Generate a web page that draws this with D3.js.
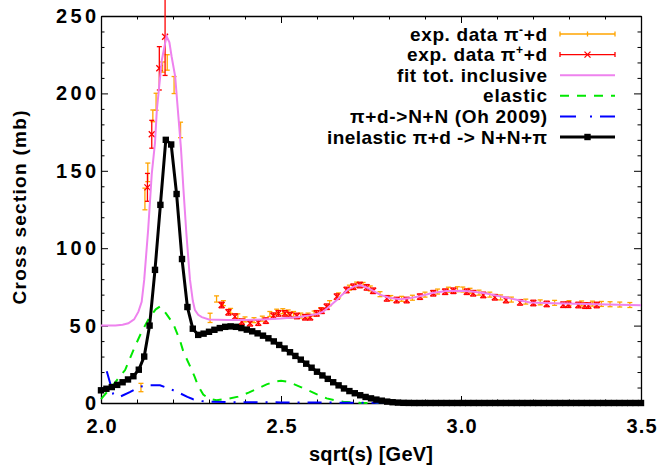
<!DOCTYPE html>
<html><head><meta charset="utf-8">
<script src="https://cdn.jsdelivr.net/npm/d3@7"></script>
<style>body{margin:0;background:#fff} text{font-family:"Liberation Sans",Arial,sans-serif;font-weight:bold;fill:#000}</style>
</head><body><svg id="c" width="670" height="466"></svg>
<script>
// ---------- data ----------
const xTicks = [2.0, 2.5, 3.0, 3.5];
const yTicks = [0, 50, 100, 150, 200, 250];

// exp. data pi- + d  (orange)
const piMinusS   = [2.111, 2.122, 2.130, 2.144, 2.153, 2.171, 2.184, 2.203, 2.221, 2.303, 2.321, 2.34, 2.36, 2.38, 2.40, 2.425, 2.448, 2.469, 2.488, 2.505, 2.52, 2.535, 2.555, 2.575, 2.592, 2.61, 2.635, 2.66, 2.69, 2.71, 2.728, 2.748, 2.775, 2.805, 2.835, 2.865, 2.9, 2.935, 2.965, 2.99, 3.005, 3.025, 3.05, 3.08, 3.11, 3.14, 3.18, 3.22, 3.26, 3.3, 3.335, 3.365, 3.39, 3.414, 3.441, 3.469];
const piMinusVal = [10, 131.8, 149, 185.5, 194.6, 217, 220, 205.4, 176.4, 55, 67.2, 64.5, 59.5, 56, 54, 53.5, 54.5, 57.5, 59, 59.3, 58.5, 57.5, 56.5, 56.5, 57.8, 60, 64.5, 69.5, 74.5, 76.5, 76.3, 74, 70.3, 67.8, 67.3, 68, 70, 72, 73.2, 73.5, 73.3, 72.5, 71.3, 70, 68.2, 66.8, 65.5, 65, 64.7, 64.5, 64.3, 64.2, 64, 63.8, 63.6, 63.3];
const piMinusErr = [2.7, 7, 6, 3.8, 5.5, 3.3, 5, 5.5, 5, 3, 2, 1.6, 1.6, 1.6, 1.6, 1.6, 1.6, 1.6, 1.6, 1.6, 1.6, 1.6, 1.6, 1.6, 1.6, 1.6, 1.6, 1.6, 1.6, 1.6, 1.6, 1.6, 1.6, 1.6, 1.6, 1.6, 1.6, 1.6, 1.6, 1.6, 1.6, 1.6, 1.6, 1.6, 1.6, 1.6, 1.6, 1.6, 1.6, 1.6, 1.6, 1.6, 1.6, 1.6, 1.6, 1.6];

// exp. data pi+ + d  (red)
const piPlusS   = [2.129, 2.141, 2.162, 2.178, 2.335, 2.354, 2.372, 2.391, 2.414, 2.437, 2.458, 2.479, 2.493, 2.511, 2.525, 2.544, 2.567, 2.581, 2.599, 2.613, 2.627, 2.655, 2.682, 2.701, 2.719, 2.738, 2.756, 2.794, 2.821, 2.849, 2.886, 2.923, 2.956, 2.979, 3.016, 3.034, 3.062, 3.094, 3.125, 3.164, 3.201, 3.238, 3.284, 3.298, 3.326, 3.344, 3.354, 3.377];
const piPlusVal = [139.3, 173.6, 216.2, 236.6, 63.3, 58.6, 55.8, 52.5, 51.5, 51.9, 53.2, 56.4, 57.9, 57.9, 56.8, 56.2, 55.4, 55.4, 57.9, 59.6, 62.2, 68.7, 73, 75.1, 76.2, 74.7, 72.5, 67.6, 66.5, 66.5, 68.7, 70.9, 71.9, 72.5, 71.9, 70.9, 69.8, 68.3, 66.5, 65, 64.6, 64, 63.5, 63.5, 63.3, 62.9, 62.9, 63.3];
const piPlusErr = [9, 9, 14, 25, 1.8, 1.8, 1.8, 1.8, 1.8, 1.8, 1.8, 1.8, 1.8, 1.8, 1.8, 1.8, 1.8, 1.8, 1.8, 1.8, 1.8, 1.8, 1.8, 1.8, 1.8, 1.8, 1.8, 1.8, 1.8, 1.8, 1.8, 1.8, 1.8, 1.8, 1.8, 1.8, 1.8, 1.8, 1.8, 1.8, 1.8, 1.8, 1.8, 1.8, 1.8, 1.8, 1.8, 1.8];

// fit tot. inclusive (violet)
const fitS   = [2.0, 2.04, 2.06, 2.076, 2.092, 2.104, 2.113, 2.12, 2.131, 2.141, 2.15, 2.155, 2.169, 2.182, 2.19, 2.196, 2.206, 2.215, 2.222, 2.229, 2.237, 2.247, 2.255, 2.261, 2.27, 2.28, 2.30, 2.35, 2.40, 2.45, 2.50, 2.55, 2.58, 2.60, 2.617, 2.635, 2.655, 2.67, 2.687, 2.705, 2.72, 2.74, 2.775, 2.80, 2.831, 2.86, 2.886, 2.92, 2.96, 2.997, 3.03, 3.071, 3.10, 3.136, 3.165, 3.192, 3.256, 3.349, 3.469, 3.5];
const fitVal = [50, 50, 50.5, 51.5, 54, 59, 65.4, 79.5, 112, 148, 168, 189, 221.6, 237, 233, 224, 211, 185, 165, 138, 110, 80, 66, 60, 57, 55.5, 54, 53.6, 53.6, 54, 54.6, 55.6, 56.6, 57.5, 59, 62.5, 66.5, 70, 73.5, 75.5, 76, 74.5, 70, 68, 67, 67.8, 69, 71, 72.3, 72.5, 72, 70.8, 69.3, 67.6, 66.2, 65, 64.4, 64, 63.3, 63.2];

// elastic (green)
const elS   = [2.0, 2.02, 2.04, 2.067, 2.094, 2.115, 2.136, 2.152, 2.164, 2.18, 2.2, 2.219, 2.229, 2.245, 2.26, 2.27, 2.284, 2.3, 2.321, 2.35, 2.381, 2.41, 2.437, 2.46, 2.483, 2.5, 2.515, 2.53, 2.555, 2.576, 2.6, 2.627, 2.65, 2.673, 2.72, 2.8];
const elVal = [2.5, 8, 13.5, 21.3, 36.4, 47, 55.7, 60.5, 62.4, 58, 51.5, 40.7, 33, 25, 17, 11, 5.5, 2.8, 1.8, 2.6, 4.1, 6.7, 9.5, 12, 13.8, 14.3, 13.8, 12.7, 10.3, 8.2, 5.6, 3, 1.7, 0.8, 0.1, 0];

// pi+d -> N+N (Oh 2009) (blue)
const ohS   = [2.016, 2.034, 2.053, 2.08, 2.108, 2.135, 2.164, 2.19, 2.219, 2.24, 2.256, 2.28, 2.303, 2.35, 2.4, 2.5, 2.6, 2.7, 2.8];
const ohVal = [20.5, 5.8, 4.1, 7, 10.5, 11.5, 11.4, 9.3, 6.3, 4, 2.4, 1.3, 0.8, 0.6, 0.5, 0.4, 0.3, 0.2, 0.1];

// inelastic pi+d -> N+N+pi (black)
const inelS = [2.000,2.015,2.030,2.045,2.060,2.075,2.090,2.105,2.120,2.135,
  2.150,2.165,2.180,2.195,2.210,2.225,2.240,2.255,2.270,2.285,
  2.300,2.315,2.330,2.345,2.360,2.375,2.390,2.405,2.420,2.435,
  2.450,2.465,2.480,2.495,2.510,2.525,2.540,2.555,2.570,2.585,
  2.600,2.615,2.630,2.645,2.660,2.675,2.690,2.705,2.720,2.735,
  2.750,2.765,2.780,2.795,2.810,2.825,2.840,2.855,2.870,2.885,
  2.900,2.915,2.930,2.945,2.960,2.975,2.990,3.005,3.020,3.035,
  3.050,3.065,3.080,3.095,3.110,3.125,3.140,3.155,3.170,3.185,
  3.200,3.215,3.230,3.245,3.260,3.275,3.290,3.305,3.320,3.335,
  3.350,3.365,3.380,3.395,3.410,3.425,3.440,3.455,3.470,3.485,3.500];
const inelVal = [8.2,9.2,10.3,11.7,13.4,15.2,17.3,21.5,30,50,
  86,128,170,167,135,93,62,48,44,44.8,
  46,47.3,48.4,49.2,49.5,49.2,48.4,47.4,46.3,45,
  43.5,41.8,39.8,37.5,35.2,32.8,30.4,28,25.4,22.8,
  20.2,17.8,15.6,13.4,11.4,9.4,7.7,6.3,5,3.9,
  3,2.2,1.5,0.9,0.5,0.25,0.1,0.05,0,0,
  0,0,0,0,0,0,0,0,0,0,
  0,0,0,0,0,0,0,0,0,0,
  0,0,0,0,0,0,0,0,0,0,
  0,0,0,0,0,0,0,0,0,0,0];

// ---------- chart ----------
const L = 101, R = 641, T = 16, B = 403;
const x = d3.scaleLinear().domain([2, 3.5]).range([L, R]);
const y = d3.scaleLinear().domain([0, 250]).range([B, T]);
const svg = d3.select("#c");
const FS = 19;

const zip = (a, b) => a.map((s, i) => [s, b[i]]);
const line = d3.line().x(d => x(d[0])).y(d => y(d[1]));

// stretch a text to a target width (reference font renders wider)
function fit(sel, w) { sel.attr("textLength", w).attr("lengthAdjust", "spacing"); }

// minor ticks
const xMinor = d3.range(20, 36).map(v => v / 10).filter(v => !xTicks.some(t => Math.abs(t - v) < 1e-6));
const yMinor = d3.range(0, 251, 10).filter(v => v % 50 !== 0);

function drawAxis(gen, tr) {
  const g = svg.append("g").attr("transform", tr).call(gen);
  g.selectAll("path.domain").attr("stroke", "#000").attr("stroke-width", 1.3);
  g.selectAll(".tick line").attr("stroke", "#000").attr("stroke-width", 1);
  return g;
}
const gx = drawAxis(d3.axisBottom(x).tickValues(xTicks).tickFormat(d3.format(".1f")).tickSizeInner(-7).tickSizeOuter(0).tickPadding(16), `translate(0,${B})`);
const gy = drawAxis(d3.axisLeft(y).tickValues(yTicks).tickFormat(d3.format("d")).tickSizeInner(-7).tickSizeOuter(0).tickPadding(5), `translate(${L},0)`);
drawAxis(d3.axisTop(x).tickValues(xTicks).tickFormat("").tickSizeInner(-7).tickSizeOuter(0), `translate(0,${T})`);
drawAxis(d3.axisRight(y).tickValues(yTicks).tickFormat("").tickSizeInner(-7).tickSizeOuter(0), `translate(${R},0)`);
[[d3.axisBottom(x), `translate(0,${B})`, xMinor], [d3.axisTop(x), `translate(0,${T})`, xMinor],
 [d3.axisLeft(y), `translate(${L},0)`, yMinor], [d3.axisRight(y), `translate(${R},0)`, yMinor]]
 .forEach(([a, tr, vals]) => {
   const g = drawAxis(a.tickValues(vals).tickFormat("").tickSizeInner(-3.5).tickSizeOuter(0), tr);
   g.select("path.domain").remove();
 });
[gx, gy].forEach(g => g.selectAll("text").attr("font-size", 20).attr("font-family", '"Liberation Sans",Arial,sans-serif').attr("font-weight", "bold").attr("fill", "#000"));
gx.selectAll("text").each(function () { fit(d3.select(this), 30); });
gy.selectAll("text").each(function (d) { fit(d3.select(this), String(d).length * 13.3); });

// axis titles
fit(svg.append("text").attr("x", (L + R) / 2).attr("y", 461).attr("text-anchor", "middle").attr("font-size", 20).text("sqrt(s) [GeV]"), 124);
fit(svg.append("text").attr("transform", `translate(26,${(T + B) / 2 - 2}) rotate(-90)`).attr("text-anchor", "middle").attr("font-size", 19).text("Cross section (mb)"), 194);

// error-bar data
const orange = "#ffa500", red = "#ff0000";
function errorBars(sArr, vArr, eArr, color, marker) {
  const g = svg.append("g").attr("stroke", color).attr("stroke-width", 1.3).attr("fill", "none");
  sArr.forEach((s, i) => {
    const cx = x(s), y1 = y(vArr[i] - eArr[i]), y2 = y(vArr[i] + eArr[i]), cy = y(vArr[i]);
    g.append("line").attr("x1", cx).attr("x2", cx).attr("y1", y1).attr("y2", y2);
    g.append("line").attr("x1", cx - 2.5).attr("x2", cx + 2.5).attr("y1", y1).attr("y2", y1);
    g.append("line").attr("x1", cx - 2.5).attr("x2", cx + 2.5).attr("y1", y2).attr("y2", y2);
    if (marker) g.append("path").attr("d", `M${cx - 3},${cy - 3}L${cx + 3},${cy + 3}M${cx - 3},${cy + 3}L${cx + 3},${cy - 3}`);
  });
}
errorBars(piMinusS, piMinusVal, piMinusErr, orange, false);
errorBars(piPlusS, piPlusVal, piPlusErr, red, true);

// curves
svg.append("path").attr("d", line(zip(fitS, fitVal))).attr("fill", "none").attr("stroke", "#ee82ee").attr("stroke-width", 2);
svg.append("path").attr("d", line(zip(elS, elVal))).attr("fill", "none").attr("stroke", "#00e800").attr("stroke-width", 2).attr("stroke-dasharray", "9,8");
svg.append("path").attr("d", line(zip(ohS, ohVal))).attr("fill", "none").attr("stroke", "#0000ff").attr("stroke-width", 2).attr("stroke-dasharray", "14,8,2,8");
const inel = zip(inelS, inelVal);
svg.append("path").attr("d", line(inel)).attr("fill", "none").attr("stroke", "#000").attr("stroke-width", 3);
svg.append("g").selectAll("rect").data(inel).join("rect")
  .attr("x", d => x(d[0]) - 3.2).attr("y", d => y(d[1]) - 3.2).attr("width", 6.4).attr("height", 6.4).attr("fill", "#000");

// legend
const lgX = 547, s1 = 560, s2 = 615, ly0 = 34, dy = 20.6;
const lg = svg.append("g");
function ltext(i, parts, w) {
  const t = lg.append("text").attr("x", lgX).attr("y", ly0 + i * dy + 6.5).attr("text-anchor", "end").attr("font-size", FS);
  parts.forEach(p => {
    const ts = t.append("tspan").text(p[0]);
    if (p[1]) ts.attr("font-size", 12).attr("dy", -7);
    if (p[2]) ts.attr("dy", 7);
  });
  fit(t, w);
}
ltext(0, [["exp. data π"], ["-", true], ["+d", false, true]], 137);
ltext(1, [["exp. data π"], ["+", true], ["+d", false, true]], 140);
ltext(2, [["fit tot. inclusive"]], 150);
ltext(3, [["elastic"]], 64);
ltext(4, [["π+d->N+N (Oh 2009)"]], 197);
ltext(5, [["inelastic π+d -> N+N+π"]], 220);
function sampleErr(i, color, marker) {
  const yy = ly0 + i * dy, g = lg.append("g").attr("stroke", color).attr("stroke-width", 1.3).attr("fill", "none");
  g.append("line").attr("x1", s1).attr("x2", s2).attr("y1", yy).attr("y2", yy);
  [s1, s2].forEach(xx => g.append("line").attr("x1", xx).attr("x2", xx).attr("y1", yy - 2.5).attr("y2", yy + 2.5));
  const m = (s1 + s2) / 2;
  if (marker) g.append("path").attr("d", `M${m - 3},${yy - 3}L${m + 3},${yy + 3}M${m - 3},${yy + 3}L${m + 3},${yy - 3}`);
  else g.append("line").attr("x1", m).attr("x2", m).attr("y1", yy - 2.5).attr("y2", yy + 2.5);
}
sampleErr(0, orange, false);
sampleErr(1, red, true);
const sl = (i, c, w, da) => lg.append("line").attr("x1", s1).attr("x2", s2).attr("y1", ly0 + i * dy).attr("y2", ly0 + i * dy)
  .attr("stroke", c).attr("stroke-width", w).attr("stroke-dasharray", da || null);
sl(2, "#ee82ee", 2);
sl(3, "#00e800", 2, "9,8");
sl(4, "#0000ff", 2, "16,14,2,8");
sl(5, "#000", 3);
lg.append("rect").attr("x", (s1 + s2) / 2 - 3.2).attr("y", ly0 + 5 * dy - 3.2).attr("width", 6.4).attr("height", 6.4).attr("fill", "#000");
</script></body></html>
